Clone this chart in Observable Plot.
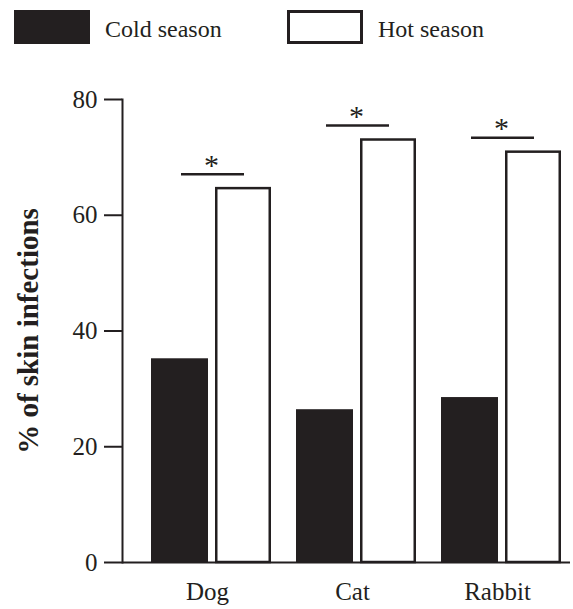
<!DOCTYPE html>
<html>
<head>
<meta charset="utf-8">
<script src="https://cdn.jsdelivr.net/npm/d3@7"></script>
<script src="https://cdn.jsdelivr.net/npm/@observablehq/plot@0.6"></script>
<style>
  html, body { margin: 0; padding: 0; background: white; }
  #legend { position: relative; width: 573px; height: 55px; font-family: "Liberation Serif", serif; color: #231f20; }
  #legend .sw { position: absolute; top: 10px; width: 76px; height: 34px; box-sizing: border-box; }
  #legend .lb { position: absolute; top: 12px; font-size: 24px; line-height: 34px; white-space: nowrap; }
</style>
</head>
<body>
<div id="legend"></div>
<div id="chart"></div>
<script>
const categories = ["Dog", "Cat", "Rabbit"];
const seasons = ["Cold season", "Hot season"];
const coldValues = [35.2, 26.4, 28.5];
const hotValues = [64.6, 73.0, 70.9];
const significance = ["*", "*", "*"];
const yTicks = [0, 20, 40, 60, 80];
const yLabel = "% of skin infections";

const ink = "#231f20";

const table = categories.map((c, i) => ({
  category: c,
  cold: coldValues[i],
  hot: hotValues[i],
  sig: significance[i]
}));

// Legend (HTML, above the SVG)
const legend = document.getElementById("legend");
const legendPos = [{sw: 14, lb: 105}, {sw: 287, lb: 378}];
seasons.forEach((s, i) => {
  const sw = document.createElement("div");
  sw.className = "sw";
  sw.style.left = legendPos[i].sw + "px";
  if (i === 0) sw.style.background = ink;
  else { sw.style.background = "white"; sw.style.border = "3px solid " + ink; }
  legend.appendChild(sw);
  const lb = document.createElement("div");
  lb.className = "lb";
  lb.style.left = legendPos[i].lb + "px";
  lb.textContent = s;
  legend.appendChild(lb);
});

const chart = Plot.plot({
  width: 573,
  height: 554,
  marginTop: 44,
  marginBottom: 47,
  marginLeft: 122,
  marginRight: 3,
  style: {fontFamily: "Liberation Serif, serif", color: ink, background: "white", overflow: "visible"},
  x: {domain: categories, paddingInner: 0.171, paddingOuter: 0.12, align: 0.77},
  y: {domain: [0, 80]},
  marks: [
    Plot.barY(table, {x: "category", y: "cold", fill: ink, insetRight: 63}),
    Plot.barY(table, {x: "category", y: "hot", fill: "white", stroke: ink, strokeWidth: 2.5, insetLeft: 65.25, insetRight: 1.25}),
    Plot.ruleY(table, {x1: "category", x2: "category", y: "hot", dy: -14.5, insetLeft: 30, insetRight: 27, stroke: ink, strokeWidth: 2.5}),
    Plot.text(table, {x: "category", y: "hot", text: "sig", dy: -23.5, fontSize: 30, fill: ink}),
    Plot.ruleY([0], {stroke: ink, strokeWidth: 2}),
    Plot.frame({anchor: "left", stroke: ink, strokeWidth: 2}),
    Plot.axisY({ticks: yTicks, tickSize: 18, tickPadding: 7, fontSize: 25, label: null, stroke: ink, strokeWidth: 2}),
    Plot.axisX({tickSize: 0, tickPadding: 20, fontSize: 25, label: null, dx: -4}),
    Plot.text([yLabel], {frameAnchor: "left", textAnchor: "middle", rotate: -90, dx: -105, lineAnchor: "top", fontSize: 29, fontWeight: "bold", fill: ink})
  ]
});
document.getElementById("chart").appendChild(chart);
</script>
</body>
</html>
